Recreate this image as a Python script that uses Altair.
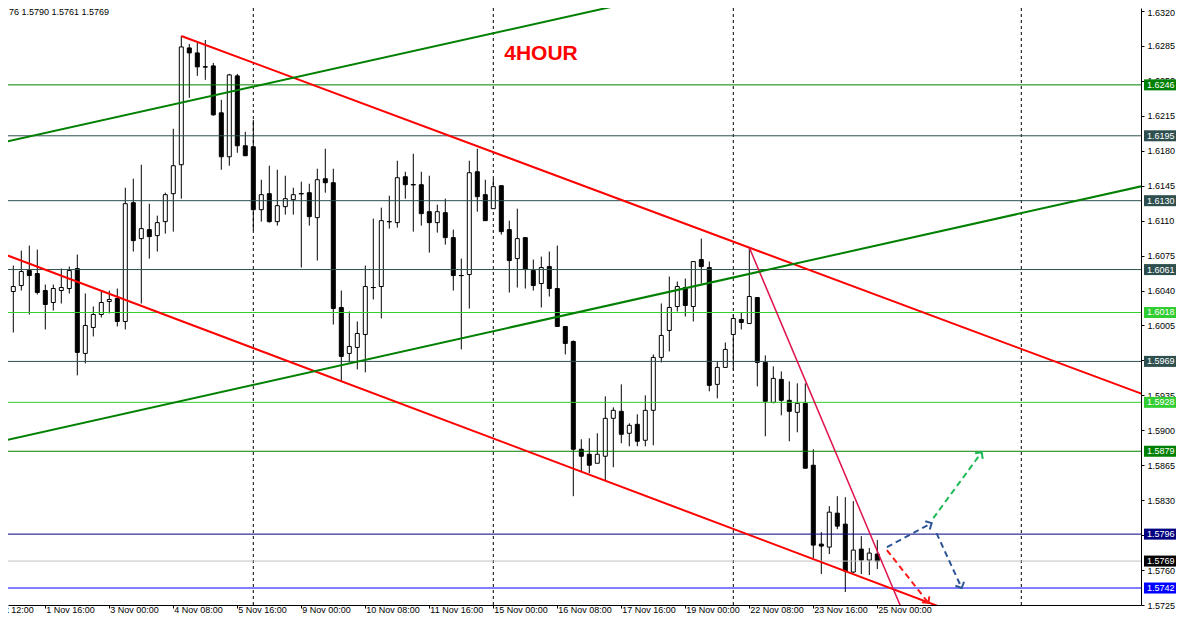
import math
import altair as alt
import pandas as pd

# ---------------- data ----------------
opens = [1.6045,1.6039,1.6045,1.6060,1.6057,1.6040,1.6028,1.6040,1.6042,1.6062,
         1.5977,1.6003,1.6016,1.6029,1.6032,1.6009,1.6128,1.6092,1.6101,1.6095,
         1.6109,1.6137,1.6166,1.6283,1.6278,1.6264,1.6265,1.6218,1.6174,1.6255,
         1.6185,1.6184,1.6121,1.6137,1.6109,1.6124,1.6131,1.6137,1.6138,1.6113,
         1.6152,1.6148,1.6023,1.5977,1.5983,1.5996,1.6043,1.6044,1.6109,1.6108,
         1.6154,1.6146,1.6146,1.6119,1.6108,1.6118,1.6093,1.6055,1.6056,1.6159,
         1.6136,1.6122,1.6145,1.6101,1.6072,1.6093,1.6060,1.6047,1.6064,1.6042,
         1.6004,1.5989,1.5881,1.5876,1.5867,1.5874,1.5912,1.5919,1.5897,1.5906,
         1.5890,1.5920,1.5973,1.6000,1.6024,1.6043,1.6024,1.6071,1.6063,1.5946,
         1.5963,1.5996,1.6011,1.6007,1.6033,1.5968,1.5928,1.5951,1.5930,1.5918,
         1.5927,1.5865,1.5786,1.5783,1.5817,1.5806,1.5758,1.5781,1.5770,1.5776]
highs = [1.6055,1.6065,1.6080,1.6085,1.6081,1.6046,1.6046,1.6062,1.6064,1.6076,
         1.6037,1.6024,1.6040,1.6040,1.6042,1.6143,1.6152,1.6166,1.6127,1.6115,
         1.6138,1.6202,1.6295,1.6287,1.6288,1.6291,1.6268,1.6231,1.6257,1.6257,
         1.6199,1.6211,1.6151,1.6165,1.6161,1.6155,1.6143,1.6149,1.6147,1.6162,
         1.6182,1.6162,1.6040,1.6019,1.6009,1.6065,1.6112,1.6123,1.6135,1.6170,
         1.6159,1.6177,1.6159,1.6155,1.6126,1.6132,1.6101,1.6072,1.6170,1.6182,
         1.6151,1.6152,1.6145,1.6110,1.6122,1.6093,1.6071,1.6074,1.6079,1.6085,
         1.6004,1.5990,1.5891,1.5892,1.5897,1.5934,1.5923,1.5946,1.5907,1.5916,
         1.5935,1.5976,1.6027,1.6054,1.6049,1.6052,1.6069,1.6092,1.6069,1.5969,
         1.5988,1.6016,1.6018,1.6083,1.6033,1.5975,1.5964,1.5959,1.5949,1.5947,
         1.5947,1.5881,1.5798,1.5824,1.5834,1.5833,1.5829,1.5794,1.5782,1.5790]
lows = [1.6038,1.5998,1.6040,1.6016,1.6036,1.6001,1.6020,1.6027,1.6037,1.5955,
        1.5967,1.5994,1.6013,1.6017,1.6004,1.6001,1.6079,1.6027,1.6072,1.6079,
        1.6097,1.6099,1.6132,1.6233,1.6255,1.6251,1.6215,1.6161,1.6165,1.6178,
        1.6175,1.6100,1.6109,1.6108,1.6105,1.6116,1.6116,1.6063,1.6105,1.6070,
        1.6138,1.6006,1.5949,1.5968,1.5961,1.5958,1.6031,1.6012,1.6102,1.6103,
        1.6132,1.6099,1.6105,1.6078,1.6098,1.6086,1.6040,1.5981,1.6022,1.6119,
        1.6110,1.6122,1.6096,1.6038,1.6043,1.6042,1.6040,1.6023,1.6034,1.6004,
        1.5976,1.5834,1.5858,1.5857,1.5867,1.5850,1.5863,1.5887,1.5884,1.5884,
        1.5884,1.5885,1.5968,1.5979,1.6019,1.6014,1.6009,1.6047,1.5939,1.5932,
        1.5963,1.5960,1.6001,1.6007,1.5944,1.5894,1.5927,1.5915,1.5889,1.5898,
        1.5862,1.5772,1.5756,1.5776,1.5801,1.5738,1.5757,1.5756,1.5755,1.5761]
closes = [1.6039,1.6044,1.6059,1.6055,1.6038,1.6026,1.6042,1.6043,1.6060,1.5978,
          1.6005,1.6016,1.6028,1.6031,1.6009,1.6127,1.6090,1.6102,1.6094,1.6108,
          1.6136,1.6165,1.6284,1.6278,1.6264,1.6264,1.6216,1.6174,1.6256,1.6185,
          1.6175,1.6121,1.6136,1.6109,1.6125,1.6132,1.6136,1.6137,1.6114,1.6151,
          1.6148,1.6022,1.5974,1.5984,1.5997,1.6044,1.6043,1.6110,1.6109,1.6153,
          1.6146,1.6146,1.6117,1.6108,1.6119,1.6093,1.6055,1.6055,1.6158,1.6134,
          1.6110,1.6144,1.6099,1.6070,1.6092,1.6061,1.6045,1.6063,1.6042,1.6004,
          1.5987,1.5881,1.5874,1.5865,1.5876,1.5912,1.5920,1.5896,1.5905,1.5889,
          1.5920,1.5973,1.5995,1.6023,1.6044,1.6025,1.6069,1.6064,1.5945,1.5963,
          1.5981,1.6012,1.6008,1.6034,1.5968,1.5929,1.5952,1.5930,1.5919,1.5927,
          1.5862,1.5785,1.5784,1.5818,1.5804,1.5759,1.5780,1.5770,1.5777,1.5769]
bar_index = list(range(len(opens)))

time_tick_index = [-3, 5, 13, 21, 29, 37, 45, 53, 61, 69, 77, 85, 93, 101, 109]
time_tick_label = ["29 Oct 12:00", "1 Nov 16:00", "3 Nov 00:00", "4 Nov 08:00",
                   "5 Nov 16:00", "9 Nov 00:00", "10 Nov 08:00", "11 Nov 16:00",
                   "15 Nov 00:00", "16 Nov 08:00", "17 Nov 16:00", "19 Nov 00:00",
                   "22 Nov 08:00", "23 Nov 16:00", "25 Nov 00:00"]
week_separators = [0, 31, 61, 91, 127]
price_ticks = [1.6320, 1.6285, 1.6250, 1.6215, 1.6180, 1.6145, 1.6110, 1.6075,
               1.6040, 1.6005, 1.5970, 1.5935, 1.5900, 1.5865, 1.5830, 1.5795,
               1.5760, 1.5725]

level_price = [1.6246, 1.6195, 1.6130, 1.6061, 1.6018, 1.5969, 1.5928, 1.5879,
               1.5796, 1.5769, 1.5742]
level_line_color = ["#008000", "#2F4F4F", "#2F4F4F", "#2F4F4F", "#32CD32", "#2F4F4F",
                    "#32CD32", "#008000", "#000080", "#C0C0C0", "#0000FF"]
level_box_color = ["#008000", "#2F4F4F", "#2F4F4F", "#2F4F4F", "#32CD32", "#2F4F4F",
                   "#32CD32", "#008000", "#000080", "#000000", "#0000FF"]

# trend lines: two anchor points (bar index, price), and how far they extend
trend_name = ["red_upper", "red_lower", "red_steep", "green_upper", "green_lower"]
trend_i1 = [22, 0, 93, 0, 0]
trend_p1 = [1.6295, 1.6076, 1.6083, 1.6189, 1.5890]
trend_i2 = [93, 100, 109, 60, 120]
trend_p2 = [1.6083, 1.5774, 1.5779, 1.6296, 1.6105]
trend_from = [22, -10, 93, -10, -10]
trend_to = [160, 160, 160, 160, 160]

# dashed projection arrows
arrow_i1 = [110.2, 116.4, 116.0, 110.2]
arrow_p1 = [1.5783, 1.5797, 1.5812, 1.5780]
arrow_i2 = [115.8, 119.55, 122.05, 115.4]
arrow_p2 = [1.5807, 1.5742, 1.5878, 1.5727]
arrow_color = ["#2F5597", "#2F5597", "#1DB954", "#FF1A1A"]

# ---------------- layout ----------------
W, H = 1133, 597
X_DOM = [0.3375, 141.9625]
Y_DOM = [1.572500, 1.632300]
PX = W / (X_DOM[1] - X_DOM[0])
PY = H / (Y_DOM[1] - Y_DOM[0])
FONT = "Liberation Sans"

xs = alt.Scale(domain=X_DOM, nice=False, zero=False, padding=0)
ys = alt.Scale(domain=Y_DOM, nice=False, zero=False, padding=0)

AX_X = alt.Axis(values=time_tick_index, labels=False, tickSize=3, tickColor="black",
                domainColor="black", grid=False, title=None)
AX_Y = alt.Axis(orient="right", values=price_ticks, format=".4f", tickSize=3,
                labelPadding=3, labelFontSize=9, labelFont=FONT, labelColor="black",
                labelOffset={"condition": {"test": "datum.value > 1.63", "value": 2},
                             "value": 0},
                tickColor="black", domainColor="black", grid=False, title=None)

candles = pd.DataFrame({"i": bar_index, "o": opens, "h": highs, "l": lows, "c": closes})

rows = []
for n, i1, p1, i2, p2, a, b in zip(trend_name, trend_i1, trend_p1, trend_i2, trend_p2,
                                   trend_from, trend_to):
    s = (p2 - p1) / (i2 - i1)
    rows.append({"name": n, "i": a, "p": p1 + s * (a - i1)})
    rows.append({"name": n, "i": b, "p": p1 + s * (b - i1)})
trend = pd.DataFrame(rows)

arrows = pd.DataFrame({"i1": arrow_i1, "p1": arrow_p1, "i2": arrow_i2, "p2": arrow_p2,
                       "color": arrow_color})
arrows["ang"] = [
    (math.degrees(math.atan2(-(b2 - b1) * PY, (a2 - a1) * PX)) + 360) % 360
    for a1, b1, a2, b2 in zip(arrow_i1, arrow_p1, arrow_i2, arrow_p2)
]

levels = pd.DataFrame({"p": level_price, "line": level_line_color,
                       "box": level_box_color,
                       "label": [f"{v:.4f}" for v in level_price]})
seps = pd.DataFrame({"i": week_separators})
tlabels = pd.DataFrame({"i": time_tick_index, "label": time_tick_label})


def X(field="i"):
    return alt.X(f"{field}:Q", scale=xs, axis=AX_X)


def Y(field):
    return alt.Y(f"{field}:Q", scale=ys, axis=AX_Y)


base = alt.Chart(candles)

axis_layer = alt.Chart(levels).mark_tick(opacity=0).encode(
    x=alt.X("p:Q", scale=xs, axis=AX_X), y=Y("p"))

sep_layer = alt.Chart(seps).mark_rule(color="black", strokeDash=[3, 3],
                                      strokeWidth=1, clip=True).encode(x=X())

wicks = base.mark_rule(color="black", strokeWidth=1, clip=True).encode(
    x=X(), y=Y("l"), y2="h:Q")
bodies = base.mark_bar(size=4, stroke="black", strokeWidth=1, clip=True).encode(
    x=X(), y=Y("o"), y2="c:Q",
    fill=alt.condition("datum.c < datum.o", alt.value("black"), alt.value("white")))
dojis = base.transform_filter("datum.o == datum.c").mark_tick(
    orient="horizontal", size=5, thickness=1, color="black", clip=True).encode(
    x=X(), y=Y("o"))

level_lines = alt.Chart(levels).mark_rule(strokeWidth=1, clip=True).encode(
    y=Y("p"), color=alt.Color("line:N", scale=None))

red_lines = alt.Chart(trend).transform_filter(
    "datum.name == 'red_upper' || datum.name == 'red_lower'").mark_line(
    color="#FF0000", strokeWidth=2, clip=True).encode(
    x=X(), y=Y("p"), detail="name:N")
steep_line = alt.Chart(trend).transform_filter("datum.name == 'red_steep'").mark_line(
    color="#E0144C", strokeWidth=1.5, clip=True).encode(x=X(), y=Y("p"))
green_lines = alt.Chart(trend).transform_filter(
    "datum.name == 'green_upper' || datum.name == 'green_lower'").mark_line(
    color="#008000", strokeWidth=2, clip=True).encode(
    x=X(), y=Y("p"), detail="name:N")

arrow_lines = alt.Chart(arrows).mark_rule(strokeWidth=2, strokeDash=[6, 4]).encode(
    x=X("i1"), y=Y("p1"), x2="i2:Q", y2="p2:Q",
    color=alt.Color("color:N", scale=None))
arrow_heads = alt.Chart(arrows).mark_point(
    shape="M -1 -1 L 0 0 L -1 1", filled=False, size=90, strokeWidth=2,
    opacity=1).encode(
    x=X("i2"), y=Y("p2"),
    angle=alt.Angle("ang:Q", scale=None), color=alt.Color("color:N", scale=None))

boxes = alt.Chart(levels).mark_rect(yOffset=-5.5, y2Offset=5.5).encode(
    x=alt.value(1136), x2=alt.value(1168), y=Y("p"), y2="p:Q",
    color=alt.Color("box:N", scale=None))
box_text = alt.Chart(levels).mark_text(align="left", baseline="middle", fontSize=9,
                                       font=FONT, color="white").encode(
    x=alt.value(1139), y=Y("p"), text="label:N")

time_text = alt.Chart(tlabels).mark_text(align="left", baseline="top", fontSize=9,
                                         font=FONT, color="black", dx=1).encode(
    x=X(), y=alt.value(H + 1), text="label:N")

title_text = alt.Chart(pd.DataFrame({"t": ["4HOUR"]})).mark_text(
    fontSize=21, fontWeight="bold", font=FONT, color="#FF0000",
    align="center", baseline="middle").encode(
    x=alt.value(533), y=alt.value(46), text="t:N")
info_text = alt.Chart(pd.DataFrame({"t": ["76 1.5790 1.5761 1.5769"]})).mark_text(
    fontSize=9, font=FONT, color="black", align="left", baseline="top").encode(
    x=alt.value(1), y=alt.value(0), text="t:N")

chart = alt.layer(
    axis_layer, sep_layer, wicks, bodies, dojis, level_lines,
    red_lines, steep_line, green_lines, arrow_lines, arrow_heads,
    boxes, box_text, time_text, title_text, info_text,
).properties(
    width=W, height=H,
    padding={"left": 0, "top": 0, "right": 35, "bottom": 10},
    autosize=alt.AutoSizeParams(type="none"),
    background="white",
).configure(font=FONT, view=alt.ViewConfig(strokeWidth=0))

chart.save("out.html", embed_options={"renderer": "svg", "actions": False})
